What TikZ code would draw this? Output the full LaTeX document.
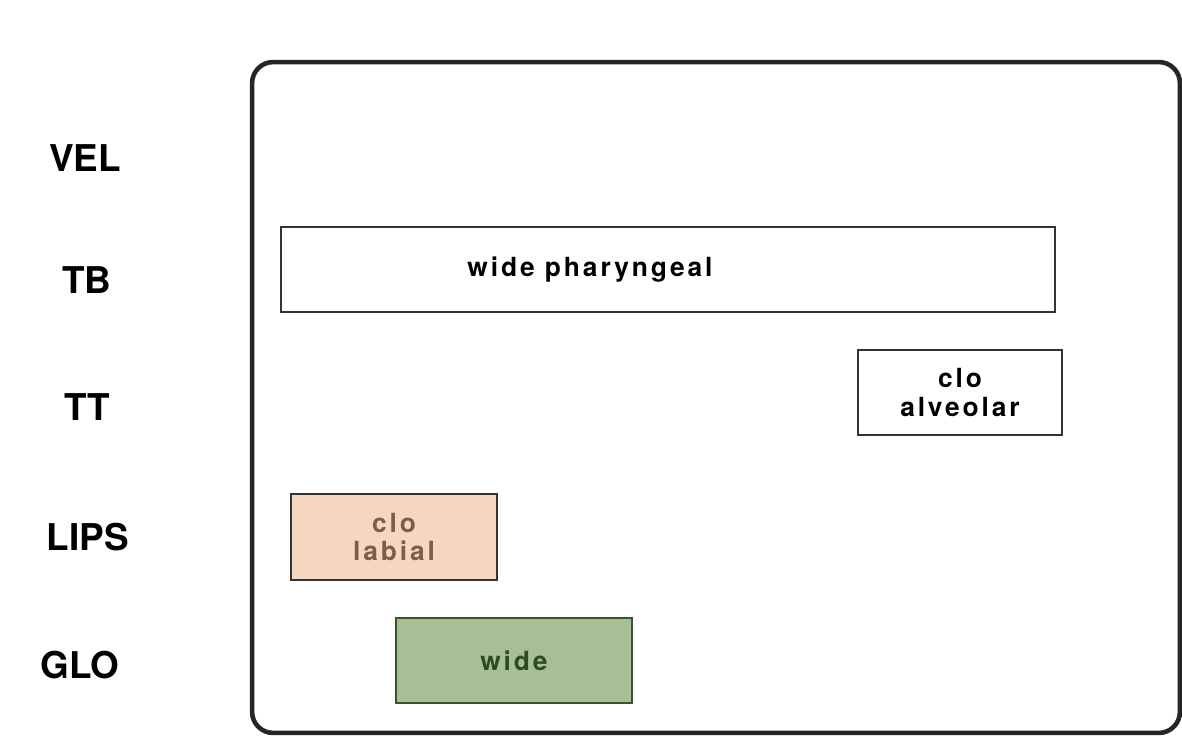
\documentclass[tikz,border=0pt]{standalone}
\usepackage{fontspec}
\setmainfont{TeX Gyre Heros}
\newfontfamily\gesturefont[LetterSpace=11]{TeX Gyre Heros}
\definecolor{peach}{HTML}{F8D5BE}
\definecolor{peachtext}{HTML}{7D5C4A}
\definecolor{sage}{HTML}{A6BF94}
\definecolor{sagedark}{HTML}{3C5230}
\definecolor{sagetext}{HTML}{2E4A22}
\tikzset{
  tier/.style={font=\fontsize{21}{24}\selectfont\bfseries, inner sep=0pt},
  gtext/.style={font=\gesturefont\fontsize{15}{16}\selectfont\bfseries},
  gesture/.style={draw=black!80, line width=1.5pt, inner sep=0pt,
    align=center, gtext},
  frame/.style={draw=black!85, line width=2.6pt, rounded corners=12pt, inner sep=0pt}
}
\begin{document}
\begin{tikzpicture}[x=0.02cm,y=-0.02cm]
  \useasboundingbox (0,0) rectangle (1182,739);
  % outer score frame
  \node[frame, minimum width=18.56cm, minimum height=13.42cm] (box) at (716,397.5) {};
  % tier names
  \node[tier] (vel)  at (85,158) {VEL};
  \node[tier] (tb)   at (87,280) {TB};
  \node[tier] (tt)   at (87,407) {TT};
  \node[tier] (lips) at (88,537) {LIPS};
  \node[tier] (glo)  at (80,665) {GLO};
  % gestures
  \node[gesture, minimum width=15.48cm, minimum height=1.7cm] (gtb) at (668,269.5) {};
  \node[gtext, inner sep=0pt] (gtbtext) at (590,270) {wide pharyngeal};
  \node[gesture, minimum width=4.08cm, minimum height=1.7cm] (gtt) at (960,392.5) {clo\\alveolar};
  \node[gesture, fill=peach, text=peachtext, minimum width=4.12cm, minimum height=1.72cm] (glips) at (394,537) {clo\\labial};
  \node[gesture, fill=sage, draw=sagedark, text=sagetext, minimum width=4.72cm, minimum height=1.7cm] (gglo) at (514,660.5) {wide};
\end{tikzpicture}
\end{document}
